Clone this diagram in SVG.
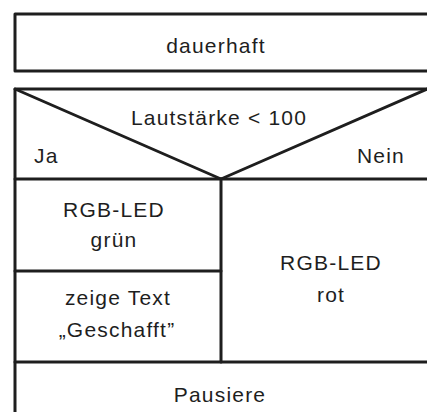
<svg xmlns="http://www.w3.org/2000/svg" width="427" height="412" viewBox="0 0 427 412">
<style>
.box{fill:#ffffff;stroke:#1e1e1e;stroke-width:3;stroke-linejoin:round}
.ln{stroke:#1e1e1e;stroke-width:3;fill:none;stroke-linecap:round}
.t{font-family:"Liberation Sans",Arial,sans-serif;font-size:21px;fill:#1e1e1e;letter-spacing:1.2px}
.c{text-anchor:middle}
</style>
<rect width="427" height="412" fill="#ffffff"/>
<g id="loop">
<rect class="box" x="15" y="14" width="420" height="57"/>
<text class="t c" x="216" y="53">dauerhaft</text>
</g>
<g id="condition">
<rect class="box" x="15" y="89" width="420" height="340"/>
<text class="t c" x="219" y="125">Lautstärke &lt; 100</text>
<text class="t" x="34" y="163">Ja</text>
<text class="t" x="405" y="163" text-anchor="end">Nein</text>
</g>
<g id="connectors">
<line class="ln" x1="15" y1="89" x2="221" y2="179"/>
<line class="ln" x1="427" y1="89" x2="221" y2="179"/>
<line class="ln" x1="15" y1="179" x2="430" y2="179"/>
<line class="ln" x1="221" y1="179" x2="221" y2="362"/>
<line class="ln" x1="15" y1="271" x2="221" y2="271"/>
<line class="ln" x1="15" y1="362" x2="430" y2="362"/>
</g>
<g id="led-gruen">
<text class="t c" x="114" y="217">RGB-LED</text>
<text class="t c" x="114" y="247">grün</text>
</g>
<g id="zeige-text">
<text class="t c" x="118" y="305">zeige Text</text>
<text class="t c" x="117" y="337">„Geschafft”</text>
</g>
<g id="led-rot">
<text class="t c" x="331" y="270">RGB-LED</text>
<text class="t c" x="331" y="302">rot</text>
</g>
<g id="pausiere">
<text class="t c" x="220" y="402">Pausiere</text>
</g>
</svg>
